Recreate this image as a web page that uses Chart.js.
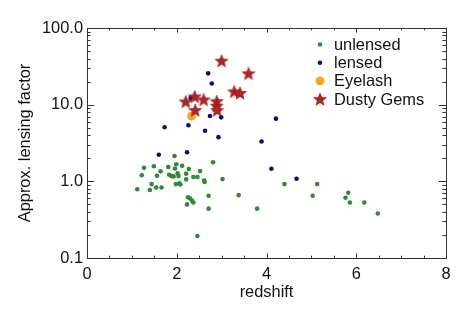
<!DOCTYPE html>
<html>
<head>
<meta charset="utf-8">
<script src="https://cdn.jsdelivr.net/npm/chart.js@4.4.0/dist/chart.umd.min.js"></script>
<style>
html,body{margin:0;padding:0;background:#fff;}
#wrap{width:472px;height:314px;position:relative;}
</style>
</head>
<body>
<div id="wrap"><canvas id="c" width="472" height="314"></canvas></div>
<script>
// ---- data ----
const seriesNames = ["unlensed", "lensed", "Eyelash", "Dusty Gems"];

const unlensedZ = [1.95,1.27,1.49,1.81,1.99,2.12,1.96,2.27,2.81,2.52,1.22,1.56,1.64,1.83,1.88,1.93,2.02,2.04,2.21,2.37,2.46,2.21,2.61,2.62,3.02,1.44,1.12,1.40,1.54,1.66,1.98,2.06,2.08,2.25,2.29,2.34,2.37,2.23,2.71,2.71,2.46,3.38,3.79,4.40,5.03,5.13,5.82,5.76,5.86,6.18,6.48];
const unlensedMu = [2.14,1.50,1.57,1.54,1.67,1.60,1.47,1.45,1.77,1.36,1.20,1.18,1.35,1.22,1.17,1.16,1.27,1.17,1.26,1.14,1.14,1.06,1.02,0.98,1.07,0.92,0.79,0.77,0.83,0.83,0.92,0.94,0.91,0.62,0.60,0.56,0.53,0.50,0.65,0.44,0.194,0.66,0.44,0.92,0.65,0.92,0.71,0.61,0.53,0.53,0.38];

const lensedZ = [1.60,2.23,1.73,2.26,2.31,2.70,2.78,2.74,2.99,2.63,2.93,3.89,4.21,4.11,4.67];
const lensedMu = [2.22,2.39,5.08,5.39,12.2,25.6,18.9,7.10,6.83,4.57,3.77,3.31,6.57,1.46,1.08];

const eyelashZ = [2.33];
const eyelashMu = [7.1];

const gemsZ = [3.00,3.60,3.28,3.41,2.20,2.40,2.60,2.41,2.89,2.89,2.90];
const gemsMu = [37.4,25.6,14.9,14.2,11.0,12.8,11.7,8.5,11.1,9.7,8.5];

const xTickValues = [0,2,4,6,8];
const yTickValues = [0.1,1,10,100];

const xLabel = "redshift";
const yLabel = "Approx. lensing factor";

// ---- styling ----
const FONT = "'Liberation Sans', Arial, Helvetica, sans-serif";
const FS = 16.4;
const cGreen = '#2e8b34';
const cBlue = '#0c0c7a';
const cOrange = '#f8a51e';
const cStar = '#b42222';

function makeStar(r, color){
  const s = Math.ceil(r*2+2);
  const cv = document.createElement('canvas');
  cv.width = s; cv.height = s;
  const g = cv.getContext('2d');
  const cx = s/2, cy = s/2 + r*0.1, ri = r*0.42;
  g.beginPath();
  for(let i=0;i<10;i++){
    const rr = i%2===0 ? r : ri;
    const a = -Math.PI/2 + i*Math.PI/5;
    const px = cx + rr*Math.cos(a), py = cy + rr*Math.sin(a);
    if(i===0) g.moveTo(px,py); else g.lineTo(px,py);
  }
  g.closePath();
  g.fillStyle = color; g.fill();
  g.strokeStyle = '#8a1515'; g.lineWidth = 0.6; g.stroke();
  return cv;
}
const starImg = makeStar(6.8, cStar);

const pts = (xs, ys) => xs.map((x,i)=>({x:x, y:ys[i]}));

const framePlugin = {
  id:'frame',
  beforeDatasetsDraw(chart){
    const {ctx, chartArea:a, scales:{x, y}} = chart;
    ctx.save();
    ctx.strokeStyle = '#333';
    ctx.lineWidth = 1;
    ctx.beginPath();
    // x ticks (bottom & top, inward)
    for(let v=0; v<=8.0001; v+=0.5){
      const px = Math.round(x.getPixelForValue(v)) + 0.5;
      const len = (Math.abs(v/2 - Math.round(v/2)) < 1e-6) ? 4.6 : 2.3;
      ctx.moveTo(px, a.bottom); ctx.lineTo(px, a.bottom - len);
      ctx.moveTo(px, a.top); ctx.lineTo(px, a.top + len);
    }
    // y ticks (left & right, inward)
    const yv = [];
    [0.1,1,10].forEach(d=>{ for(let k=1;k<=9;k++) yv.push([k*d, k===1]); });
    yv.push([100,true]);
    yv.forEach(([v,major])=>{
      const py = Math.round(y.getPixelForValue(v)) + 0.5;
      const len = major ? 7.2 : 3.6;
      ctx.moveTo(a.left, py); ctx.lineTo(a.left + len, py);
      ctx.moveTo(a.right, py); ctx.lineTo(a.right - len, py);
    });
    ctx.stroke();
    ctx.strokeRect(Math.round(a.left)+0.5, Math.round(a.top)+0.5, Math.round(a.right-a.left), Math.round(a.bottom-a.top));
    ctx.restore();
  },
  afterDraw(chart){
    const ctx = chart.ctx;
    const mx = 320, tx = 334, y0 = 44.5, dy = 18.2;
    ctx.save();
    ctx.font = FS + 'px ' + FONT;
    ctx.fillStyle = '#111';
    ctx.textBaseline = 'middle';
    ctx.textAlign = 'left';
    chart.data.datasets.forEach((ds, i)=>{
      const yy = y0 + i*dy;
      if(ds.pointStyle === 'circle'){
        ctx.beginPath();
        ctx.arc(mx, yy, ds.pointRadius, 0, Math.PI*2);
        ctx.fillStyle = ds.backgroundColor; ctx.fill();
      } else {
        ctx.drawImage(ds.pointStyle, mx - ds.pointStyle.width/2, yy - ds.pointStyle.height/2);
      }
      ctx.fillStyle = '#111';
      ctx.fillText(ds.label, tx, yy + 1);
    });
    ctx.restore();
  }
};

new Chart(document.getElementById('c'), {
  type:'scatter',
  data:{
    datasets:[
      {label:seriesNames[0], data:pts(unlensedZ, unlensedMu), pointStyle:'circle', pointRadius:2.3, backgroundColor:cGreen, borderWidth:0, order:4},
      {label:seriesNames[1], data:pts(lensedZ, lensedMu), pointStyle:'circle', pointRadius:2.3, backgroundColor:cBlue, borderWidth:0, order:3},
      {label:seriesNames[2], data:pts(eyelashZ, eyelashMu), pointStyle:'circle', pointRadius:4.4, backgroundColor:cOrange, borderWidth:0, order:2},
      {label:seriesNames[3], data:pts(gemsZ, gemsMu), pointStyle:starImg, pointRadius:7, backgroundColor:cStar, borderWidth:0, order:1}
    ]
  },
  options:{
    responsive:false,
    animation:false,
    events:[],
    layout:{padding:{top:28, right:26, left:0, bottom:0}},
    plugins:{legend:{display:false}, tooltip:{enabled:false}},
    scales:{
      x:{
        type:'linear', min:0, max:8,
        afterBuildTicks(s){ s.ticks = xTickValues.map(v=>({value:v})); },
        afterFit(s){ s.height = 56; },
        grid:{display:false, drawTicks:false},
        border:{display:false},
        ticks:{color:'#111', font:{family:FONT, size:FS}, padding:7, maxRotation:0, autoSkip:false, callback:v=>String(v)},
        title:{display:true, text:xLabel, color:'#111', font:{family:FONT, size:FS}, padding:{top:12, bottom:12}}
      },
      y:{
        type:'logarithmic', min:0.1, max:100,
        afterBuildTicks(s){ s.ticks = yTickValues.map(v=>({value:v})); },
        afterFit(s){ s.width = 87; },
        grid:{display:false, drawTicks:false},
        border:{display:false},
        ticks:{color:'#111', font:{family:FONT, size:FS}, padding:4, autoSkip:false, callback:v=>Number(v).toFixed(1)},
        title:{display:true, text:yLabel, color:'#111', font:{family:FONT, size:FS}, padding:{top:16, bottom:16}}
      }
    }
  },
  plugins:[framePlugin]
});
</script>
</body>
</html>
